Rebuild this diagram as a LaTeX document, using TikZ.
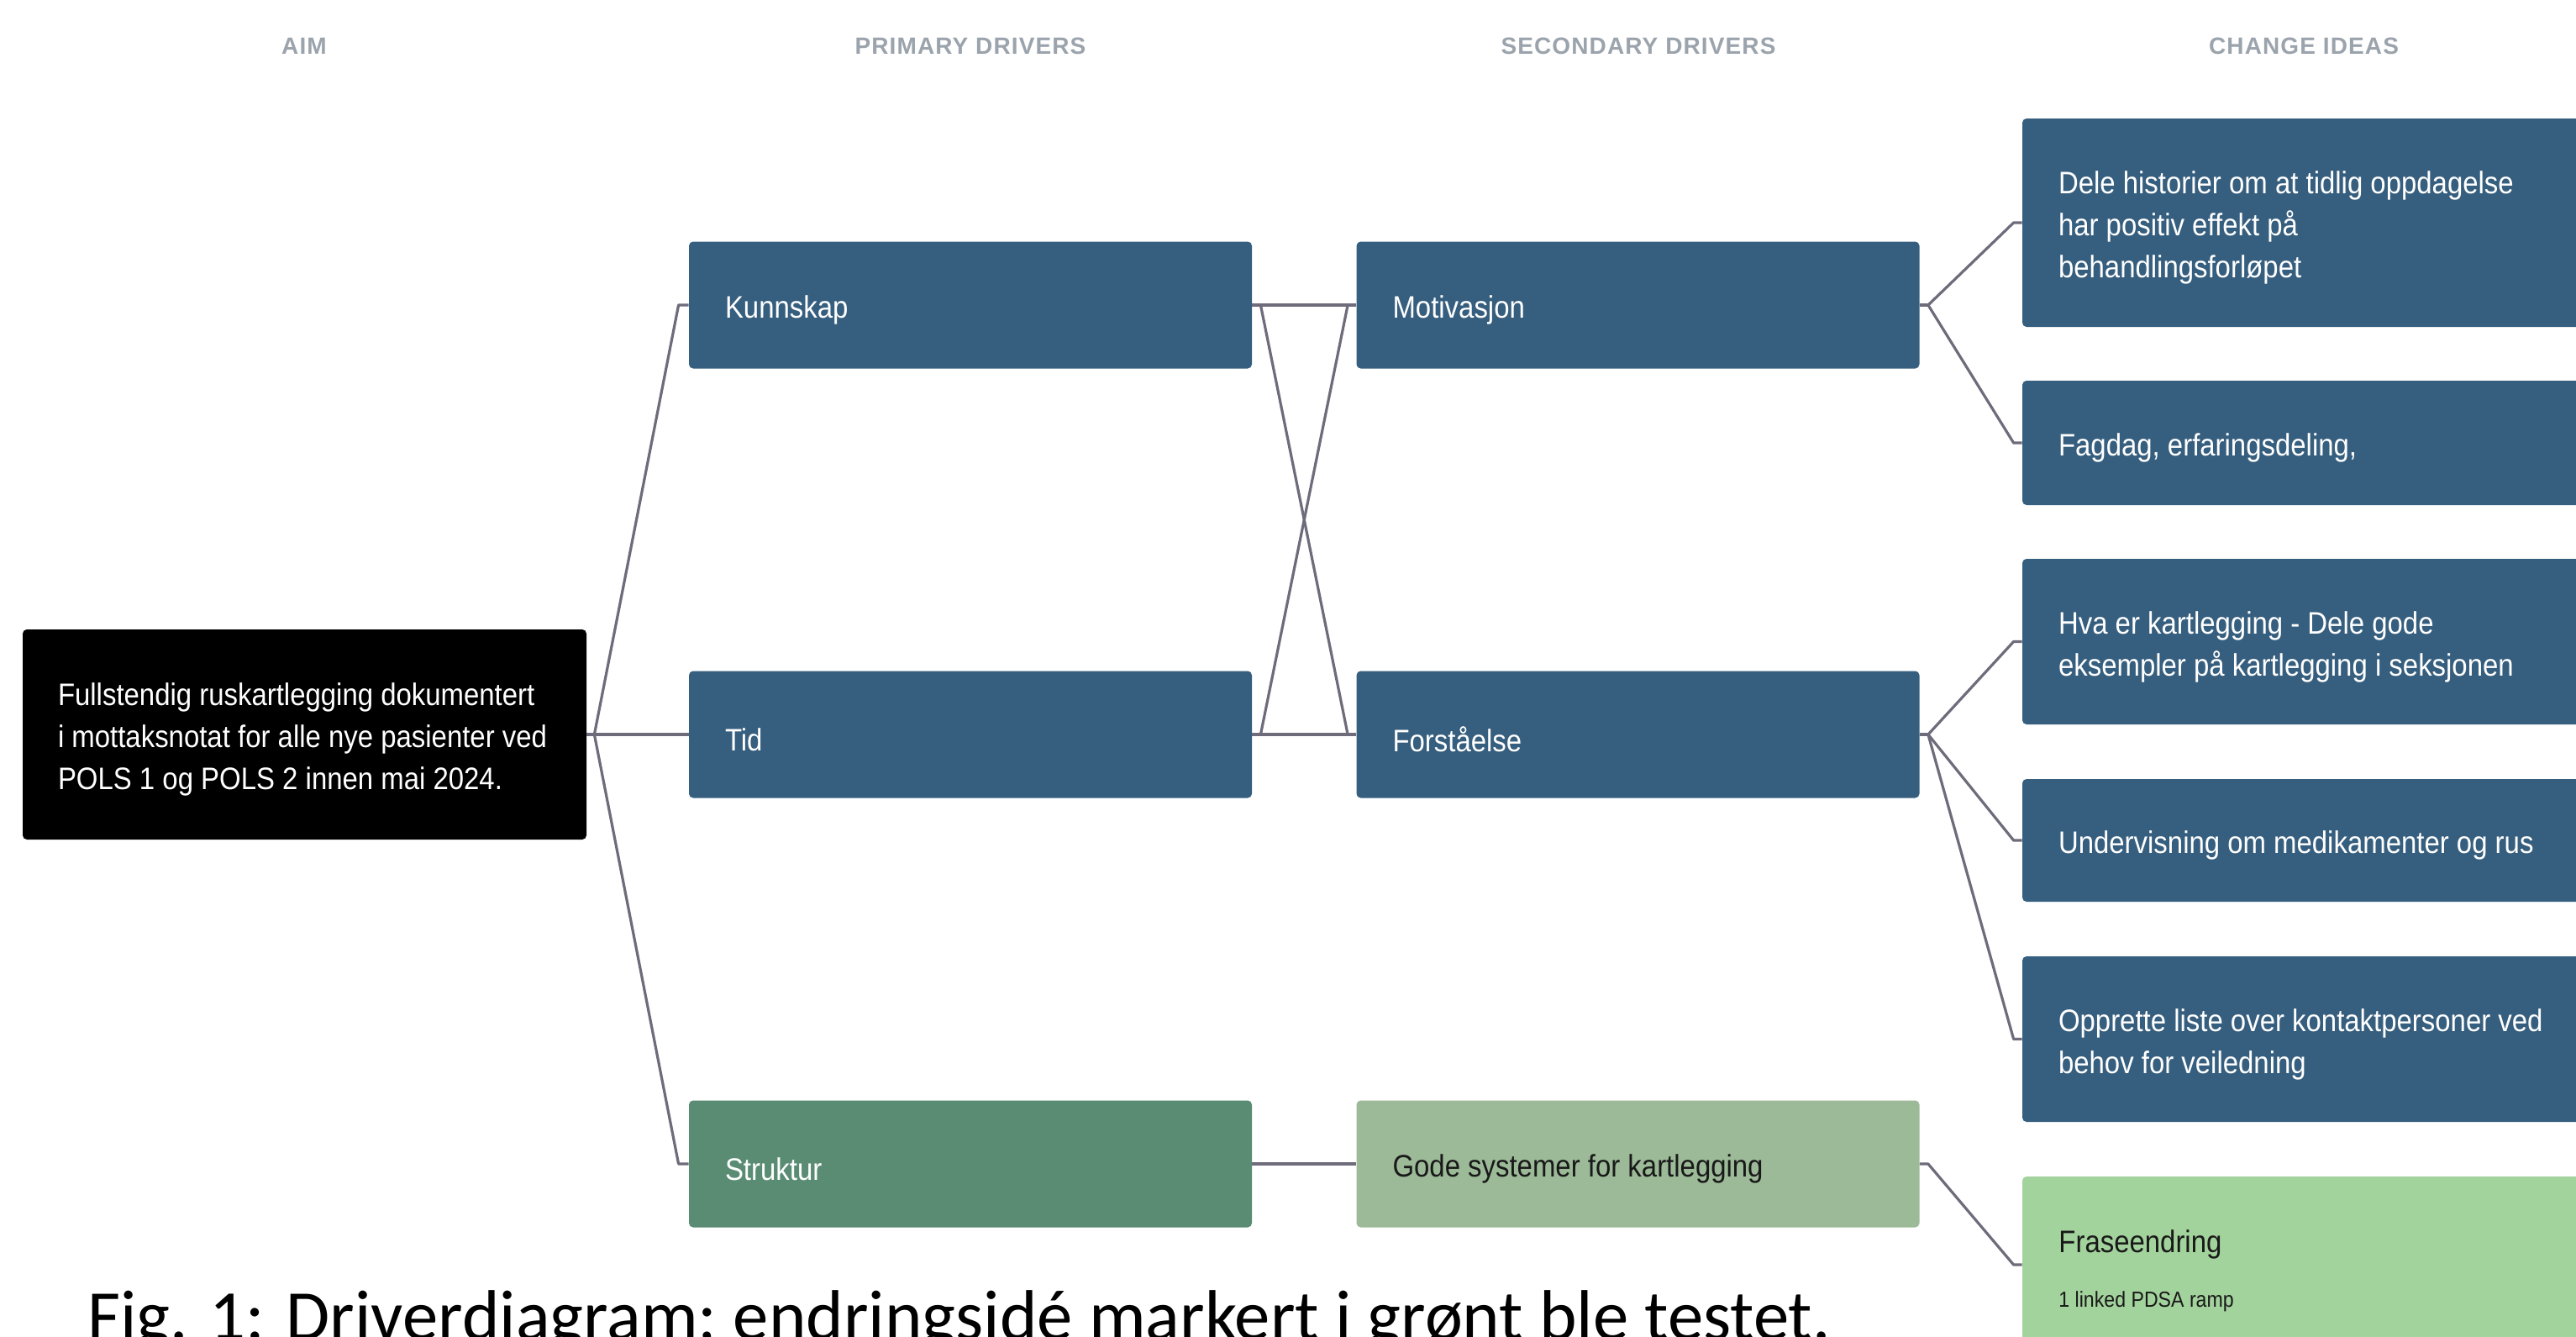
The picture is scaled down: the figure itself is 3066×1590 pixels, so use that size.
\documentclass[tikz,border=0pt]{standalone}
\usepackage{fontspec}
\setmainfont{Liberation Sans}[FakeStretch=0.89]
\newfontfamily\hdfont{Liberation Sans}[LetterSpace=4]
\newfontfamily\capfont{Carlito}
\usetikzlibrary{calc}
\definecolor{boxblue}{RGB}{54,94,126}
\definecolor{strgreen}{RGB}{90,140,116}
\definecolor{godgreen}{RGB}{156,186,152}
\definecolor{frgreen}{RGB}{163,211,156}
\definecolor{linecol}{RGB}{110,107,123}
\definecolor{hdgray}{RGB}{155,163,172}
\definecolor{darktext}{RGB}{25,25,25}
\begin{document}
\begin{tikzpicture}[x=0.5pt,y=-0.5pt,
  box/.style={rectangle, rounded corners=2.5pt, minimum width=335pt, minimum height=75.5pt, inner sep=0pt},
  lbl/.style={anchor=west, inner sep=0pt, align=left, font=\fontsize{18.5}{25}\selectfont, text=white},
  hdr/.style={font=\hdfont\bfseries\fontsize{14}{16}\selectfont, text=hdgray, inner sep=0pt},
  conn/.style={draw=linecol, line width=1.6pt, line join=round}]
\useasboundingbox (0,0) rectangle (3066,1590);
\clip (0,0) rectangle (3066,1590);
\fill[white] (0,0) rectangle (3066,1590);

% headers
\node[hdr] (h1) at (362,55) {AIM};
\node[hdr] (h2) at (1155,55) {PRIMARY DRIVERS};
\node[hdr] (h3) at (1950,55) {SECONDARY DRIVERS};
\node[hdr] (h4) at (2742,55) {CHANGE IDEAS};

% boxes
\node[box, fill=black, minimum width=335.5pt, minimum height=125pt] (aim) at (362.5,874) {};
\node[box, fill=boxblue] (kun) at (1155,363) {};
\node[box, fill=boxblue] (tid) at (1155,874) {};
\node[box, fill=strgreen] (str) at (1155,1385) {};
\node[box, fill=boxblue] (mot) at (1949.5,363) {};
\node[box, fill=boxblue] (for) at (1949.5,874) {};
\node[box, fill=godgreen] (god) at (1949.5,1385) {};
\node[box, fill=boxblue, minimum height=124pt] (c1) at (2742,265) {};
\node[box, fill=boxblue, minimum height=74pt] (c2) at (2742,527) {};
\node[box, fill=boxblue, minimum height=98.5pt] (c3) at (2742,763.5) {};
\node[box, fill=boxblue, minimum height=73pt] (c4) at (2742,1000) {};
\node[box, fill=boxblue, minimum height=98.5pt] (c5) at (2742,1236.5) {};
\node[box, fill=frgreen, minimum height=105pt] (c6) at (2742,1505) {};

% texts
\node[lbl] (aimT) at ($(aim.west)+(42,6)$) {Fullstendig ruskartlegging dokumentert\\i mottaksnotat for alle nye pasienter ved\\POLS 1 og POLS 2 innen mai 2024.};
\node[lbl] (kunT) at ($(kun.west)+(43,6)$) {Kunnskap};
\node[lbl] (tidT) at ($(tid.west)+(43,6)$) {Tid};
\node[lbl] (strT) at ($(str.west)+(43,6)$) {Struktur};
\node[lbl] (motT) at ($(mot.west)+(43,6)$) {Motivasjon};
\node[lbl] (forT) at ($(for.west)+(43,6)$) {Forståelse};
\node[lbl, text=darktext] (godT) at ($(god.west)+(43,6)$) {Gode systemer for kartlegging};
\node[lbl] (c1T) at ($(c1.west)+(43,6)$) {Dele historier om at tidlig oppdagelse\\har positiv effekt på\\behandlingsforløpet};
\node[lbl] (c2T) at ($(c2.west)+(43,6)$) {Fagdag, erfaringsdeling,};
\node[lbl] (c3T) at ($(c3.west)+(43,6)$) {Hva er kartlegging - Dele gode\\eksempler på kartlegging i seksjonen};
\node[lbl] (c4T) at ($(c4.west)+(43,6)$) {Undervisning om medikamenter og rus};
\node[lbl] (c5T) at ($(c5.west)+(43,6)$) {Opprette liste over kontaktpersoner ved\\behov for veiledning};
\node[lbl, anchor=base west, text=darktext] (c6T) at (2450,1490) {Fraseendring};
\node[lbl, anchor=base west, text=darktext, font=\fontsize{13}{15}\selectfont] (c6S) at (2450,1555) {1 linked PDSA ramp};

% connectors: aim -> primary
\draw[conn] (aim.east) -- ++(9,0) coordinate (a0);
\draw[conn] (a0) -- ($(kun.west)+(-12,0)$) -- (kun.west);
\draw[conn] (a0) -- (tid.west);
\draw[conn] (a0) -- ($(str.west)+(-12,0)$) -- (str.west);

% primary -> secondary
\draw[conn] (kun.east) -- (mot.west);
\draw[conn] (tid.east) -- (for.west);
\draw[conn] (str.east) -- (god.west);
\draw[conn] (kun.east) -- ++(10,0) -- ($(for.west)+(-10,0)$) -- (for.west);
\draw[conn] (tid.east) -- ++(10,0) -- ($(mot.west)+(-10,0)$) -- (mot.west);

% secondary -> change ideas
\draw[conn] (mot.east) -- ++(10,0) coordinate (m0);
\draw[conn] (m0) -- ($(c1.west)+(-10,0)$) -- (c1.west);
\draw[conn] (m0) -- ($(c2.west)+(-10,0)$) -- (c2.west);
\draw[conn] (for.east) -- ++(10,0) coordinate (f0);
\draw[conn] (f0) -- ($(c3.west)+(-10,0)$) -- (c3.west);
\draw[conn] (f0) -- ($(c4.west)+(-10,0)$) -- (c4.west);
\draw[conn] (f0) -- ($(c5.west)+(-10,0)$) -- (c5.west);
\draw[conn] (god.east) -- ++(10,0) -- ($(c6.west)+(-10,0)$) -- (c6.west);

% caption
\node[anchor=base west, inner sep=0pt, font=\capfont\fontsize{42.4}{50}\selectfont] (cap) at (104,1594) {Fig. 1: Driverdiagram; endringsidé markert i grønt ble testet.};
\end{tikzpicture}
\end{document}
